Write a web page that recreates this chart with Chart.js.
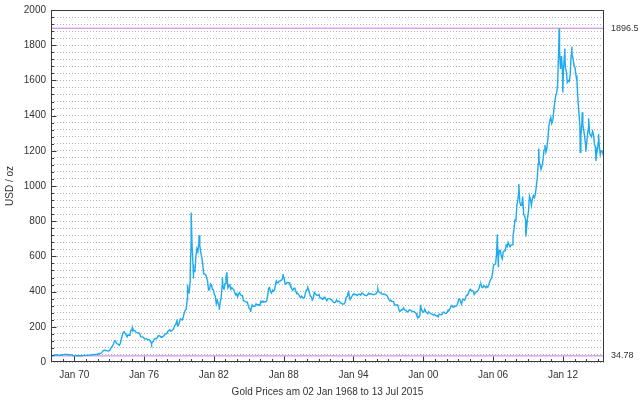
<!DOCTYPE html>
<html>
<head>
<meta charset="utf-8">
<script src="https://cdn.jsdelivr.net/npm/chart.js@4/dist/chart.umd.min.js"></script>
<style>
  html, body { margin: 0; padding: 0; background: #fff; }
  canvas { display: block; }
</style>
</head>
<body>
<canvas id="chart" width="640" height="402"></canvas>
<script>
// monthly averages of the AM fix, starting Jan of the first year
const startYear = 1968;
const prices1968_1979 = [
  35.2, 35.2, 37.5, 38.0, 40.5, 41.0, 39.5, 38.5, 38.5, 38.5, 39.5, 41.0,
  42.0, 42.5, 43.2, 43.3, 43.5, 41.5, 42.0, 41.0, 40.5, 40.0, 36.5, 35.2,
  34.9, 35.0, 35.1, 35.6, 35.9, 35.4, 35.3, 35.4, 36.2, 37.5, 37.4, 37.4,
  37.9, 38.7, 38.9, 39.0, 40.5, 40.1, 41.0, 42.7, 42.0, 42.5, 42.9, 43.5,
  45.7, 48.3, 48.3, 49.0, 54.6, 62.1, 65.7, 67.0, 65.5, 64.9, 62.9, 63.9,
  65.1, 74.2, 84.4, 90.5, 102.0, 120.1, 120.2, 106.8, 103.0, 100.1, 94.8, 106.7,
  129.2, 150.2, 168.4, 172.2, 163.3, 154.1, 143.0, 154.6, 151.8, 158.8, 181.7, 183.9,
  176.3, 179.6, 178.2, 170.1, 167.0, 164.3, 165.5, 161.0, 144.0, 143.0, 142.8, 139.3,
  131.6, 131.1, 132.6, 128.2, 126.8, 125.5, 117.8, 109.3, 114.0, 116.7, 130.4, 133.7,
  132.3, 136.3, 148.2, 149.1, 146.6, 140.8, 143.4, 144.8, 149.6, 158.6, 162.1, 160.4,
  173.2, 178.2, 183.7, 175.1, 176.3, 183.1, 188.4, 206.5, 212.2, 227.4, 206.0, 207.8,
  227.3, 245.7, 242.1, 239.2, 257.3, 279.1, 294.7, 300.8, 355.1, 391.7, 392.5, 455.1
];
const prices1980_1989 = [
  675.3, 665.3, 553.6, 517.4, 513.8, 600.7, 644.3, 626.5, 674.0, 661.1, 623.5, 594.9,
  557.4, 500.5, 499.8, 495.8, 479.7, 460.8, 409.3, 410.3, 443.6, 437.8, 413.4, 410.1,
  384.0, 374.2, 330.2, 350.4, 333.9, 314.9, 339.1, 364.2, 435.4, 422.5, 414.8, 444.5,
  481.0, 491.5, 421.4, 432.3, 438.6, 413.0, 422.4, 416.3, 412.8, 394.4, 381.6, 388.0,
  370.9, 386.8, 394.4, 381.3, 377.0, 377.6, 347.6, 347.5, 341.1, 340.2, 341.0, 320.2,
  303.0, 298.8, 304.0, 324.6, 316.5, 316.8, 317.4, 330.0, 324.0, 325.9, 325.3, 321.6,
  345.4, 338.9, 345.7, 340.4, 342.4, 342.6, 348.6, 376.5, 418.0, 423.3, 398.1, 391.4,
  408.3, 401.0, 408.9, 438.3, 460.0, 449.6, 450.5, 460.3, 459.8, 465.5, 467.4, 486.3,
  477.1, 442.1, 443.6, 451.7, 451.3, 451.2, 437.5, 431.6, 413.4, 406.4, 419.6, 419.2,
  404.0, 387.8, 390.2, 384.4, 371.0, 367.6, 375.0, 365.4, 362.0, 367.0, 393.9, 409.4
];
const prices1990_1999 = [
  410.1, 416.8, 393.1, 374.3, 369.4, 352.3, 362.5, 394.7, 389.3, 380.8, 381.1, 378.2,
  383.6, 363.3, 363.5, 358.4, 356.8, 366.7, 367.7, 356.5, 348.7, 358.7, 359.8, 361.1,
  354.5, 353.9, 344.3, 338.6, 337.2, 340.8, 352.7, 342.9, 345.4, 344.4, 335.0, 334.2,
  329.0, 329.3, 330.0, 342.2, 367.2, 371.9, 392.0, 378.9, 355.5, 364.2, 373.7, 383.3,
  386.9, 381.9, 384.1, 377.3, 381.4, 385.6, 385.1, 380.4, 391.6, 389.8, 384.4, 379.3,
  378.6, 376.6, 382.1, 391.0, 385.1, 387.5, 386.4, 383.4, 383.1, 383.0, 386.7, 387.0,
  400.0, 405.0, 396.1, 392.8, 392.0, 385.3, 383.5, 387.4, 383.1, 381.1, 377.9, 369.0,
  355.0, 346.6, 351.8, 344.3, 343.8, 340.8, 324.1, 324.0, 322.8, 324.9, 306.0, 288.7,
  289.3, 297.5, 295.9, 308.4, 299.1, 292.3, 292.9, 284.1, 288.9, 296.1, 294.2, 291.6,
  287.1, 287.3, 285.7, 282.4, 276.4, 261.3, 256.2, 256.7, 264.7, 310.7, 293.2, 283.1
];
const prices2000_2015 = [
  284.6, 300.0, 286.4, 279.7, 275.2, 285.8, 281.6, 274.5, 273.7, 270.0, 266.0, 271.5,
  265.5, 261.9, 263.0, 260.5, 272.4, 270.2, 267.5, 272.4, 283.4, 283.1, 276.2, 275.9,
  281.7, 295.5, 294.0, 302.7, 314.5, 321.2, 313.3, 310.3, 319.2, 316.6, 319.2, 333.4,
  356.9, 359.0, 340.6, 328.2, 355.7, 356.4, 351.0, 359.8, 378.9, 378.9, 389.9, 407.6,
  414.0, 405.3, 406.7, 403.0, 383.8, 392.4, 398.1, 400.5, 405.3, 420.5, 439.4, 442.1,
  424.0, 423.4, 434.2, 429.2, 421.9, 430.7, 424.5, 437.9, 456.1, 469.9, 476.7, 509.8,
  549.9, 555.0, 557.1, 610.6, 676.5, 596.2, 633.8, 632.6, 598.2, 585.8, 627.8, 629.8,
  631.2, 664.8, 655.5, 679.4, 666.9, 655.5, 665.3, 665.4, 712.7, 754.6, 806.3, 803.2,
  889.6, 922.3, 968.4, 909.7, 888.7, 889.5, 939.8, 839.0, 829.9, 806.6, 760.9, 816.1,
  858.7, 943.2, 924.3, 890.2, 928.6, 945.7, 934.2, 949.4, 996.6, 1043.2, 1127.0, 1134.7,
  1117.9, 1095.4, 1113.3, 1148.7, 1205.4, 1232.9, 1192.9, 1215.8, 1271.0, 1342.0, 1369.9, 1390.6,
  1356.4, 1372.7, 1424.0, 1473.8, 1510.4, 1528.7, 1572.8, 1755.8, 1771.9, 1665.2, 1738.9, 1652.3,
  1656.1, 1742.6, 1673.8, 1649.7, 1589.0, 1598.8, 1594.3, 1630.3, 1744.5, 1746.6, 1721.6, 1684.8,
  1671.9, 1627.6, 1593.1, 1487.9, 1414.0, 1343.4, 1285.5, 1351.7, 1348.6, 1316.6, 1275.8, 1225.4,
  1244.3, 1300.0, 1336.1, 1299.0, 1287.5, 1279.1, 1310.6, 1295.9, 1236.6, 1222.5, 1175.3, 1202.3,
  1251.8, 1227.1, 1178.6, 1198.9, 1198.6, 1181.5
];

// single days with notable highs and lows (decimal year, price)
const dayDates = [
  1968.003, 1970.02, 1974.99, 1976.65, 1978.83, 1979.74, 1979.97, 1980.05, 1980.21,
  1980.73, 1982.47, 1982.73, 1983.12, 1985.16, 1987.95, 1990.07, 1993.58, 1996.09,
  1999.55, 1999.76, 2001.29, 2006.36, 2006.45, 2008.21, 2008.81, 2009.92, 2011.68,
  2011.99, 2012.16, 2012.76, 2013.49, 2013.66, 2013.97, 2014.21, 2014.84, 2015.06, 2015.53
];
const dayPrices = [
  35.18, 34.78, 195.0, 103.1, 242.0, 440.0, 512.0, 850.0, 474.0,
  720.0, 297.0, 481.0, 509.3, 284.3, 499.8, 423.8, 405.6, 414.8,
  252.8, 325.5, 256.0, 725.0, 542.0, 1011.3, 712.5, 1212.5, 1896.5,
  1531.0, 1781.0, 1791.8, 1192.0, 1419.5, 1195.0, 1385.0, 1142.0, 1296.0, 1157.1
];

const firstDay = 1968.003;   // 02 Jan 1968
const lastDay = 2015.53;     // 13 Jul 2015
const labelYears = [1970, 1976, 1982, 1988, 1994, 2000, 2006, 2012];

const monthly = [].concat(prices1968_1979, prices1980_1989, prices1990_1999, prices2000_2015);
const points = monthly.map((v, i) => ({ x: startYear + (i + 0.5) / 12, y: v }));
dayDates.forEach((d, i) => points.push({ x: d, y: dayPrices[i] }));
points.sort((a, b) => a.x - b.x);

const allValues = points.map(p => p.y);
const maxPrice = Math.max(...allValues);
const minPrice = Math.min(...allValues);

const font = { family: "'Liberation Sans', Arial, sans-serif", size: 10 };
const textColor = '#333';

// frame round the plot plus the inward tick marks
const frameTicks = {
  id: 'frameTicks',
  afterDraw(chart) {
    const { ctx, chartArea: a, scales } = chart;
    const x = scales.x, y = scales.y;
    ctx.save();
    ctx.strokeStyle = '#3a3a3a';
    ctx.lineWidth = 1;
    const l = Math.round(a.left) + 0.5, r = Math.round(a.right) - 0.5;
    const t = Math.round(a.top) + 0.5, b = Math.round(a.bottom) - 0.5;
    ctx.strokeRect(l, t, r - l, b - t);
    ctx.beginPath();
    for (let yr = 1969; yr <= 2015; yr++) {
      const px = Math.round(x.getPixelForValue(yr)) + 0.5;
      const len = labelYears.includes(yr) ? 5 : 2.5;
      ctx.moveTo(px, b);
      ctx.lineTo(px, b - len);
    }
    for (let v = 40; v < 2000; v += 40) {
      const py = Math.round(y.getPixelForValue(v)) + 0.5;
      const len = v % 200 === 0 ? 5 : 2.5;
      ctx.moveTo(l, py);
      ctx.lineTo(l + len, py);
    }
    ctx.stroke();
    ctx.restore();
  }
};

new Chart(document.getElementById('chart'), {
  type: 'line',
  data: {
    datasets: [
      {
        data: points,
        borderColor: '#1eaaee',
        borderWidth: 1.4,
        pointRadius: 0,
        tension: 0,
        order: 0
      },
      {
        data: [{ x: firstDay, y: maxPrice }, { x: lastDay, y: maxPrice }],
        borderColor: '#c47ad8',
        borderWidth: 1,
        pointRadius: 0,
        order: 1
      },
      {
        data: [{ x: firstDay, y: minPrice }, { x: lastDay, y: minPrice }],
        borderColor: '#c47ad8',
        borderWidth: 1,
        pointRadius: 0,
        order: 1
      }
    ]
  },
  options: {
    responsive: false,
    animation: false,
    devicePixelRatio: 1,
    layout: { padding: { top: 10, left: 0, right: 0, bottom: 0 } },
    plugins: {
      legend: { display: false },
      tooltip: { enabled: false }
    },
    scales: {
      x: {
        type: 'linear',
        min: firstDay,
        max: lastDay,
        afterBuildTicks: (s) => { s.ticks = labelYears.map(v => ({ value: v })); },
        ticks: {
          autoSkip: false,
          maxRotation: 0,
          padding: 7,
          font: font,
          color: textColor,
          callback: (v) => 'Jan ' + String(v % 100).padStart(2, '0')
        },
        grid: { display: false, drawTicks: false },
        border: { display: false },
        title: {
          display: true,
          text: 'Gold Prices am 02 Jan 1968 to 13 Jul 2015',
          font: font,
          color: textColor,
          padding: { top: 4, bottom: 4 }
        },
        afterFit: (s) => { s.height = 40; s.paddingLeft = 0; s.paddingRight = 0; }
      },
      y: {
        position: 'left',
        min: 0,
        max: 2000,
        afterBuildTicks: (s) => {
          const t = [];
          for (let v = 0; v <= 2000; v += 40) t.push({ value: v });
          s.ticks = t;
        },
        ticks: {
          autoSkip: false,
          padding: 5,
          font: font,
          color: textColor,
          callback: (v) => (v % 200 === 0 ? String(v) : '')
        },
        grid: { color: '#b4b4b4', drawTicks: false, lineWidth: 1 },
        border: { display: false, dash: [1, 2] },
        title: {
          display: true,
          text: 'USD / oz',
          font: font,
          color: textColor,
          padding: { top: 4, bottom: 0 }
        },
        afterFit: (s) => { s.width = 51; s.paddingTop = 0; s.paddingBottom = 0; }
      },
      y2: {
        position: 'right',
        min: 0,
        max: 2000,
        afterBuildTicks: (s) => { s.ticks = [{ value: maxPrice }, { value: minPrice }]; },
        ticks: {
          autoSkip: false,
          padding: 7,
          font: { family: font.family, size: 9 },
          color: textColor,
          callback: (v) => String(v)
        },
        grid: { display: false, drawTicks: false },
        border: { display: false },
        afterFit: (s) => { s.width = 36; s.paddingTop = 0; s.paddingBottom = 0; }
      }
    }
  },
  plugins: [frameTicks]
});
</script>
</body>
</html>
